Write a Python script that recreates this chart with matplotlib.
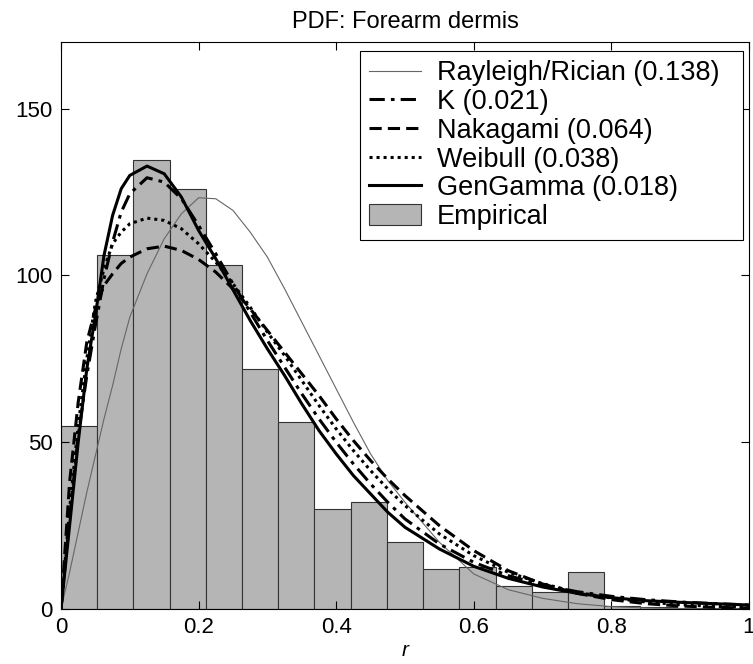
import numpy as np
import matplotlib
matplotlib.use('Agg')
import matplotlib.pyplot as plt
from matplotlib.patches import Patch
from matplotlib.lines import Line2D

plt.rcParams['font.family'] = ['Liberation Sans', 'DejaVu Sans']

# histogram (Empirical), 19 bins on [0, 1]
bar_width = 1 / 19
counts = [55, 106, 134.5, 126, 103, 72, 56, 30, 32, 20,
          12, 12.5, 7, 5, 11, 1, 0.6, 0.4, 0.3]

# fitted pdf curves
r = [0, 0.0125, 0.025, 0.0375, 0.05, 0.0625, 0.075, 0.0875, 0.1, 0.125,
     0.15, 0.175, 0.2, 0.225, 0.25, 0.275, 0.3, 0.325, 0.35, 0.375,
     0.4, 0.425, 0.45, 0.475, 0.5, 0.55, 0.6, 0.65, 0.7, 0.75,
     0.8, 0.85, 0.9, 0.95, 1.0]
rayleigh = [0, 11, 23, 35, 46, 57, 67, 78, 87.5, 100.5,
            111, 118.5, 123.3, 123, 119.5, 113, 105.5, 96, 86, 76,
            66, 56, 46.5, 38.5, 32, 20, 10.5, 5.8, 3.2, 1.6,
            0.7, 0.3, 0.1, 0, 0]
k_dist = [0, 27, 52, 70, 85, 99, 110, 119, 124.5, 129.3,
          128, 123, 115, 106.5, 97.5, 89, 80.5, 72.5, 64.5, 57,
          50, 43.5, 37.5, 32, 27, 19.5, 14, 10, 7.2, 5.2,
          3.8, 2.8, 2.1, 1.6, 1.2]
nakagami = [0, 38, 62, 80, 90, 97, 100.5, 103.6, 105.5, 108,
            108.8, 107.5, 104.8, 101, 96, 90, 83.5, 77, 70.5, 64,
            57, 50.5, 44.5, 39, 34, 25, 17.5, 11.5, 7.5, 4.7,
            2.8, 1.6, 0.9, 0.5, 0.3]
weibull = [0, 30, 55, 75, 92, 102, 109.5, 113, 115.5, 117.2,
           116.5, 114, 109.5, 104, 97.5, 90.5, 83, 76, 68.5, 61,
           54, 47.5, 41.5, 36, 31, 22.5, 16, 11, 7.6, 5,
           3.3, 2.1, 1.3, 0.8, 0.5]
gengamma = [0, 25, 50, 72, 88, 106, 118, 126, 130, 132.8,
            130.5, 123.5, 113.5, 105, 95.7, 86.5, 78, 70, 61.5, 53.5,
            46.5, 40, 34.5, 29, 24.5, 18, 12.8, 9.2, 6.6, 4.7,
            3.4, 2.5, 2.0, 1.6, 1.2]

labels = ['Rayleigh/Rician (0.138)', 'K (0.021)', 'Nakagami (0.064)',
          'Weibull (0.038)', 'GenGamma (0.018)', 'Empirical']

fig = plt.figure(figsize=(7.53, 6.64), dpi=100)
ax = fig.add_axes([61 / 753, 1 - 609 / 664, 688 / 753, 567 / 664])

left = np.arange(len(counts)) * bar_width
ax.bar(left, counts, width=bar_width, align='edge', color='#b5b5b5',
       edgecolor='#333333', linewidth=0.8, zorder=1)

ax.plot(r, rayleigh, color='#666666', lw=0.8, zorder=3)
ax.plot(r, k_dist, color='black', lw=2.2, ls=(0, (5, 2, 1.2, 2)), zorder=3)
ax.plot(r, nakagami, color='black', lw=2.2, ls=(0, (4, 2)), zorder=3)
ax.plot(r, weibull, color='black', lw=2.2, ls=(0, (1, 1.3)), zorder=3)
ax.plot(r, gengamma, color='black', lw=2.2, ls='-', zorder=3)

ax.set_xlim(0, 1)
ax.set_ylim(0, 170)
ax.set_xticks([0, 0.2, 0.4, 0.6, 0.8, 1])
ax.set_xticklabels(['0', '0.2', '0.4', '0.6', '0.8', '1'])
ax.set_yticks([0, 50, 100, 150])
ax.tick_params(direction='in', length=6, width=0.8, labelsize=16,
               top=True, right=True, pad=6)
for s in ax.spines.values():
    s.set_linewidth(0.8)

ax.set_title('PDF: Forearm dermis', fontsize=17, pad=10)
ax.set_xlabel('r', fontsize=15, style='italic', labelpad=2)

handles = [Line2D([], [], color='#666666', lw=0.8),
           Line2D([], [], color='black', lw=2.2, ls=(0, (5, 2, 1.2, 2))),
           Line2D([], [], color='black', lw=2.2, ls=(0, (4, 2))),
           Line2D([], [], color='black', lw=2.2, ls=(0, (1, 1.3))),
           Line2D([], [], color='black', lw=2.2),
           Patch(facecolor='#b5b5b5', edgecolor='#333333', linewidth=0.8)]
leg = ax.legend(handles, labels, loc='upper left',
                bbox_to_anchor=(0.4346, 0.6596, 0.5567, 0.3245),
                mode='expand', borderaxespad=0, fontsize=19.5,
                frameon=True, fancybox=False, framealpha=1,
                edgecolor='black', handlelength=1.9, handleheight=0.8,
                handletextpad=0.6, labelspacing=0.1, borderpad=0.35)
leg.get_frame().set_linewidth(0.8)

fig.savefig('out.png', dpi=100)
